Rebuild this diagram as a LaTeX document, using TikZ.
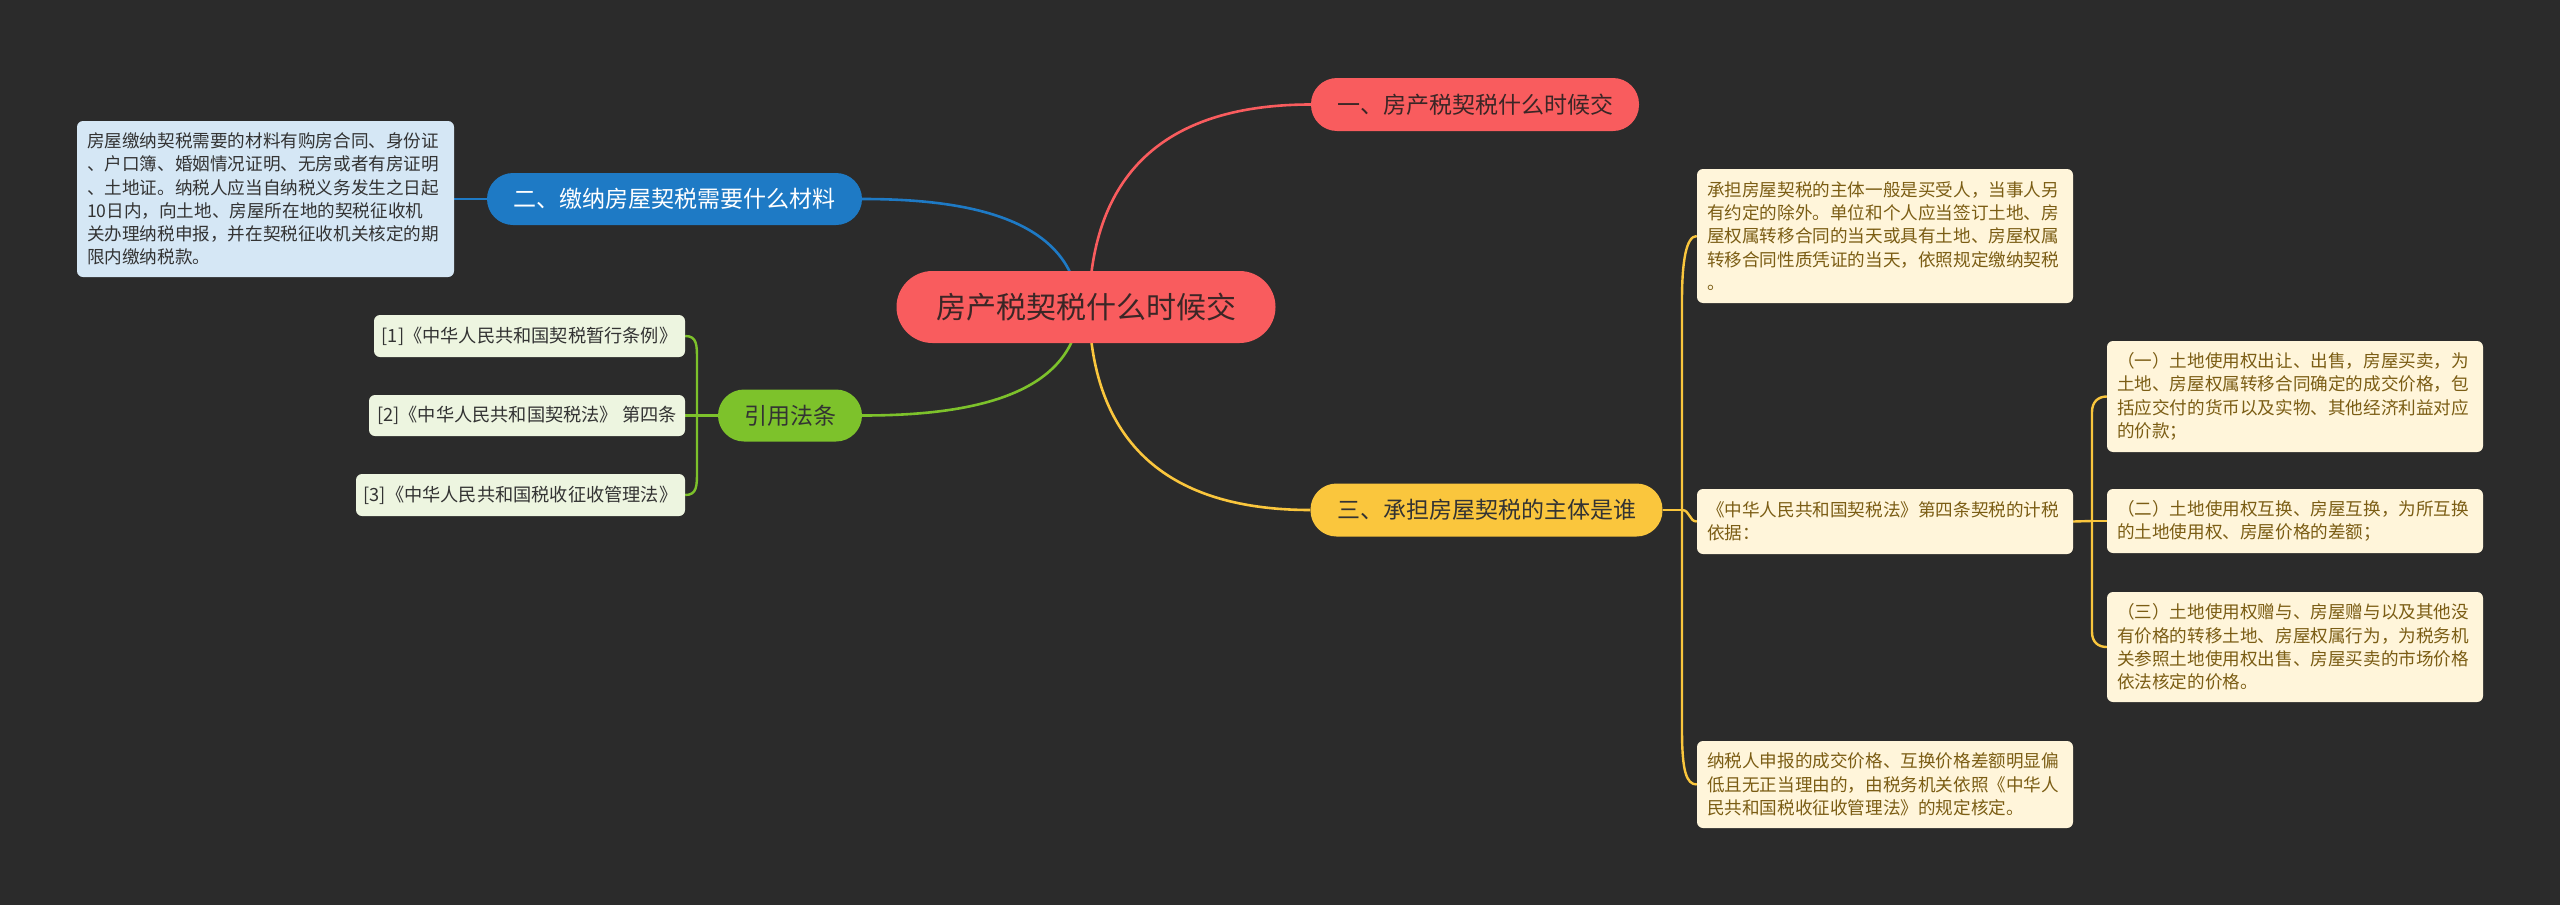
\documentclass[tikz,border=0pt]{standalone}
\usepackage{fontspec}
\setmainfont{Noto Sans CJK SC}
\usetikzlibrary{backgrounds}
\definecolor{bg}{HTML}{2B2B2B}
\definecolor{cred}{HTML}{F95C5E}
\definecolor{cblue}{HTML}{1E7AC5}
\definecolor{lblue}{HTML}{D5E7F5}
\definecolor{cgreen}{HTML}{7DC22B}
\definecolor{lgreen}{HTML}{EDF5E0}
\definecolor{cyellow}{HTML}{FAC63D}
\definecolor{lyellow}{HTML}{FFF5DA}
\definecolor{ytext}{HTML}{7B5D14}
\definecolor{dtext}{HTML}{333333}
\definecolor{rtext}{HTML}{3B2626}
\tikzset{
  pill/.style={rounded corners=#1, inner sep=0pt, align=center},
  big/.style={font=\fontsize{30}{36}\selectfont},
  mid/.style={font=\fontsize{23}{28}\selectfont},
  small/.style={font=\fontsize{17.6}{23.3}\selectfont},
  gsmall/.style={font=\fontsize{18.2}{23.3}\selectfont, inner xsep=4pt},
  tbox/.style={rounded corners=6pt, inner xsep=10pt, inner ysep=0pt, align=left, small},
  conn/.style={line width=2.6pt},
}
\begin{document}
\begin{tikzpicture}[x=1pt,y=-1pt]
\useasboundingbox (0,0) rectangle (2560,905);
% main nodes
\node[pill=36pt, big, fill=cred, text=rtext, minimum width=379pt, minimum height=72pt] (c) at (1086,307) {房产税契税什么时候交};
\node[pill=26pt, mid, fill=cred, text=rtext, minimum width=328pt, minimum height=53pt] (n1) at (1475,104.5) {一、房产税契税什么时候交};
\node[pill=26pt, mid, fill=cblue, text=white, minimum width=375pt, minimum height=52pt] (n2) at (674.5,199) {二、缴纳房屋契税需要什么材料};
\node[pill=26pt, mid, fill=cyellow, text=dtext, minimum width=352pt, minimum height=53pt] (n3) at (1486.5,510) {三、承担房屋契税的主体是谁};
\node[pill=26pt, mid, fill=cgreen, text=dtext, minimum width=144pt, minimum height=52pt] (g) at (790,415.5) {引用法条};
% blue box
\node[tbox, fill=lblue, text=dtext, text width=357pt, minimum height=156pt] (b) at (265.5,199) {房屋缴纳契税需要的材料有购房合同、身份证\\、户口簿、婚姻情况证明、无房或者有房证明\\、土地证。纳税人应当自纳税义务发生之日起\\10日内，向土地、房屋所在地的契税征收机\\关办理纳税申报，并在契税征收机关核定的期\\限内缴纳税款。};
% green items
\node[tbox, gsmall, fill=lgreen, text=dtext, minimum width=311pt, minimum height=42pt, align=center] (i1) at (529.5,336) {[1]《中华人民共和国契税暂行条例》};
\node[tbox, gsmall, fill=lgreen, text=dtext, minimum width=316pt, minimum height=41pt, align=center] (i2) at (527,415.5) {[2]《中华人民共和国契税法》 第四条};
\node[tbox, gsmall, fill=lgreen, text=dtext, minimum width=329pt, minimum height=42pt, align=center] (i3) at (520.5,495) {[3]《中华人民共和国税收征收管理法》};
% yellow boxes
\node[tbox, fill=lyellow, text=ytext, text width=356pt, minimum height=134pt] (y1) at (1885,236) {承担房屋契税的主体一般是买受人，当事人另\\有约定的除外。单位和个人应当签订土地、房\\屋权属转移合同的当天或具有土地、房屋权属\\转移合同性质凭证的当天，依照规定缴纳契税\\。};
\node[tbox, fill=lyellow, text=ytext, text width=356pt, minimum height=65pt] (y2) at (1885,521.5) {《中华人民共和国契税法》第四条契税的计税\\依据：};
\node[tbox, fill=lyellow, text=ytext, text width=356pt, minimum height=87pt] (y3) at (1885,784.5) {纳税人申报的成交价格、互换价格差额明显偏\\低且无正当理由的，由税务机关依照《中华人\\民共和国税收征收管理法》的规定核定。};
\node[tbox, fill=lyellow, text=ytext, text width=356pt, minimum height=111pt] (r1) at (2295,396.5) {（一）土地使用权出让、出售，房屋买卖，为\\土地、房屋权属转移合同确定的成交价格，包\\括应交付的货币以及实物、其他经济利益对应\\的价款；};
\node[tbox, fill=lyellow, text=ytext, text width=356pt, minimum height=64pt] (r2) at (2295,521) {（二）土地使用权互换、房屋互换，为所互换\\的土地使用权、房屋价格的差额；};
\node[tbox, fill=lyellow, text=ytext, text width=356pt, minimum height=110pt] (r3) at (2295,647) {（三）土地使用权赠与、房屋赠与以及其他没\\有价格的转移土地、房屋权属行为，为税务机\\关参照土地使用权出售、房屋买卖的市场价格\\依法核定的价格。};
% junctions
\coordinate (gj) at (697,415.5);
\coordinate (yj) at (1682,510);
\coordinate (rj) at (2092,521);
\begin{scope}[on background layer]
\fill[bg] (0,0) rectangle (2560,905);
\draw[conn, cred] (c.center) ++(3,0) .. controls (1092,160) and (1180,104.5) .. (n1.west);
\draw[conn, cblue] (c.center) ++(-7,0) .. controls (1072,215) and (960,199) .. (n2.east);
\draw[conn, cblue] (b.east) -- (n2.west);
\draw[conn, cgreen] (c.center) ++(-6,0) .. controls (1075,400) and (960,415.5) .. (g.east);
\draw[conn, cyellow] (c.center) ++(3,0) .. controls (1092,470) and (1200,510) .. (n3.west);
% green bracket
\draw[cgreen, line width=2.4pt] (g.west) -- (i2.east);
\draw[cgreen, line width=2.4pt] (i1.east) .. controls (697,336) and (697,345) .. (697,360) -- (697,471) .. controls (697,486) and (697,495) .. (i3.east);
% yellow bracket left
\draw[cyellow, line width=2.4pt] (n3.east) -- (yj);
\draw[cyellow, line width=2.4pt] (y1.west) .. controls (1686,236) and (1682,262) .. (1682,300) -- (1682,730) .. controls (1682,770) and (1686,784.5) .. (y3.west);
\draw[cyellow, line width=2.4pt] (yj) .. controls (1690,510) and (1689,521.5) .. (y2.west);
% yellow bracket right
\draw[cyellow, line width=2.4pt] (y2.east) -- (rj);
\draw[cyellow, line width=2.4pt] (r1.west) .. controls (2098,396.5) and (2092,402) .. (2092,412) -- (2092,632) .. controls (2092,642) and (2098,647) .. (r3.west);
\draw[cyellow, line width=2.4pt] (rj) -- (r2.west);
\end{scope}
\end{tikzpicture}
\end{document}
